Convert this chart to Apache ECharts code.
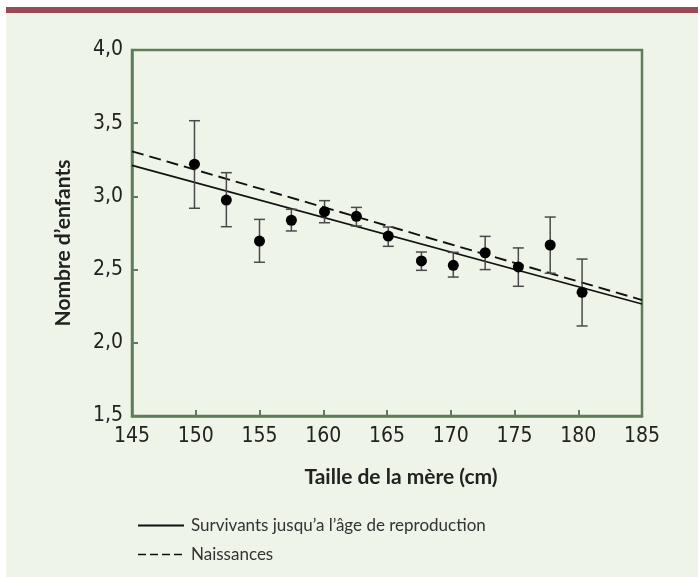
<!DOCTYPE html>
<html>
<head>
<meta charset="utf-8">
<script src="https://cdn.jsdelivr.net/npm/echarts@6/dist/echarts.min.js"></script>
<style>
html,body{margin:0;padding:0;background:#ffffff;}
#chart{width:698px;height:577px;}
</style>
</head>
<body>
<div id="chart"></div>
<script>
// Data
const heights = [149.9, 152.4, 155.0, 157.5, 160.1, 162.6, 165.1, 167.7, 170.2, 172.7, 175.3, 177.8, 180.3];
const children = [3.22, 2.975, 2.695, 2.837, 2.896, 2.864, 2.729, 2.559, 2.529, 2.615, 2.518, 2.668, 2.345];
const errLow = [2.919, 2.793, 2.55, 2.764, 2.82, 2.798, 2.659, 2.495, 2.449, 2.5, 2.386, 2.475, 2.115];
const errHigh = [3.517, 3.162, 2.843, 2.912, 2.971, 2.925, 2.791, 2.62, 2.618, 2.727, 2.648, 2.859, 2.572];
const survivorsLine = [[145, 3.212], [185, 2.265]];
const birthsLine = [[145, 3.308], [185, 2.292]];
const seriesNames = ['Survivants jusqu\u2019a l\u2019âge de reproduction', 'Naissances'];
const xTitle = 'Taille de la mère (cm)';
const yTitle = 'Nombre d\u2019enfants';

const green = '#5e7d59';
const tickFont = "'Liberation Sans Narrow', 'DejaVu Sans Condensed', sans-serif";
const textFont = "Lato, 'Open Sans', sans-serif";

const chart = echarts.init(document.getElementById('chart'), null, {renderer: 'canvas'});

const errData = heights.map((h, i) => [h, errLow[i], errHigh[i]]);
const pointData = heights.map((h, i) => [h, children[i]]);

chart.setOption({
  backgroundColor: '#eef4e7',
  animation: false,
  graphic: [
    {type: 'rect', shape: {x: 0, y: 0, width: 698, height: 7}, style: {fill: '#ffffff'}, silent: true},
    {type: 'rect', shape: {x: 0, y: 0, width: 6, height: 577}, style: {fill: '#ffffff'}, silent: true},
    {type: 'rect', shape: {x: 6, y: 7, width: 692, height: 6}, style: {fill: '#9a4a56'}, silent: true}
  ],
  grid: {
    left: 132, right: 56, top: 50, bottom: 161,
    show: true, borderColor: green, borderWidth: 2.5, backgroundColor: 'transparent'
  },
  legend: {
    data: [
      {name: seriesNames[0]},
      {name: seriesNames[1], lineStyle: {type: [8, 4], width: 1.5}}
    ],
    orient: 'vertical',
    left: 132, top: 512,
    itemWidth: 46, itemHeight: 14, itemGap: 12,
    itemStyle: {opacity: 0},
    textStyle: {fontFamily: textFont, fontSize: 17, color: '#333333', padding: [0, 0, 0, 2]},
    inactiveColor: '#999'
  },
  xAxis: {
    type: 'value', min: 145, max: 185, interval: 5,
    name: xTitle, nameLocation: 'middle', nameGap: 51,
    nameTextStyle: {fontFamily: textFont, fontWeight: 'bold', fontSize: 21, color: '#222222', padding: [0, 0, 0, 28]},
    axisLine: {show: true, lineStyle: {color: green, width: 2.5}},
    axisTick: {show: true, inside: true, length: 6, lineStyle: {color: green, width: 2}},
    axisLabel: {margin: 10, fontFamily: tickFont, fontSize: 21, color: '#222222'},
    splitLine: {show: false}
  },
  yAxis: {
    type: 'value', min: 1.5, max: 4.0, interval: 0.5,
    name: yTitle, nameLocation: 'middle', nameGap: 58, nameRotate: 90,
    nameTextStyle: {fontFamily: textFont, fontWeight: 'bold', fontSize: 21, color: '#222222', padding: [0, 0, 0, -20]},
    axisLine: {show: true, lineStyle: {color: green, width: 2.5}},
    axisTick: {show: true, inside: true, length: 6, lineStyle: {color: green, width: 2}},
    axisLabel: {margin: 9, fontFamily: tickFont, fontSize: 21, color: '#222222',
      formatter: v => v.toFixed(1).replace('.', ',')},
    splitLine: {show: false}
  },
  series: [
    {
      name: seriesNames[0], type: 'line', data: survivorsLine, symbol: 'none',
      lineStyle: {color: '#111111', width: 1.6, type: 'solid'}, itemStyle: {color: '#111111'}, z: 3
    },
    {
      name: seriesNames[1], type: 'line', data: birthsLine, symbol: 'none',
      lineStyle: {color: '#111111', width: 1.9, type: [12, 6]}, itemStyle: {color: '#111111'}, z: 3
    },
    {
      name: 'err', type: 'custom', data: errData, z: 4,
      renderItem: function (params, api) {
        const x = api.value(0);
        const lo = api.coord([x, api.value(1)]);
        const hi = api.coord([x, api.value(2)]);
        const hw = 5.5;
        const style = {stroke: '#4a4a4a', lineWidth: 1.5, fill: null};
        return {
          type: 'group',
          children: [
            {type: 'line', shape: {x1: lo[0], y1: lo[1], x2: hi[0], y2: hi[1]}, style: style},
            {type: 'line', shape: {x1: lo[0] - hw, y1: lo[1], x2: lo[0] + hw, y2: lo[1]}, style: style},
            {type: 'line', shape: {x1: hi[0] - hw, y1: hi[1], x2: hi[0] + hw, y2: hi[1]}, style: style}
          ]
        };
      }
    },
    {
      name: 'points', type: 'scatter', data: pointData, symbol: 'circle', symbolSize: 11,
      itemStyle: {color: '#000000', opacity: 1}, z: 5
    }
  ]
});
</script>
</body>
</html>
